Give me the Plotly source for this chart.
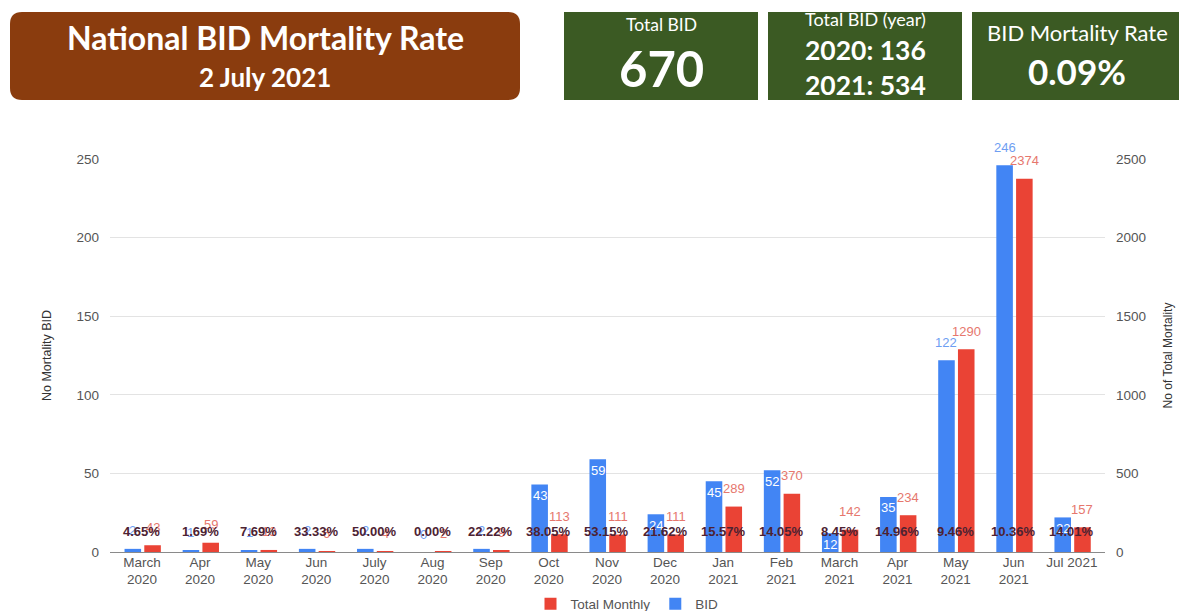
import plotly.graph_objects as go

# ---------------- data ----------------
months = ["March<br>2020", "Apr<br>2020", "May<br>2020", "Jun<br>2020", "July<br>2020",
          "Aug<br>2020", "Sep<br>2020", "Oct<br>2020", "Nov<br>2020", "Dec<br>2020",
          "Jan<br>2021", "Feb<br>2021", "March<br>2021", "Apr<br>2021", "May<br>2021",
          "Jun<br>2021", "Jul 2021"]
years = [2020] * 10 + [2021] * 7
bid = [2, 1, 1, 2, 2, 0, 2, 43, 59, 24, 45, 52, 12, 35, 122, 246, 22]
total_monthly = [43, 59, 13, 6, 4, 2, 9, 113, 111, 111, 289, 370, 142, 234, 1290, 2374, 157]
mortality_rate_text = "0.09%"
left_ticks = [0, 50, 100, 150, 200, 250]
right_ticks = [0, 500, 1000, 1500, 2000, 2500]

# ---------------- style ----------------
PAGE_OFF = 8                     # default body margin of the page
W, H = 1187 - PAGE_OFF, 611 - PAGE_OFF
ML, MT = 110 - PAGE_OFF, 159 - PAGE_OFF
PLOT_R, PLOT_B = 1105 - PAGE_OFF, 552 - PAGE_OFF
MR, MB = W - PLOT_R, H - PLOT_B
PW, PH = PLOT_R - ML, PLOT_B - MT
BLUE, RED = "#4285f4", "#ea4335"
BLUE_LBL, RED_LBL = "#6e9ef2", "#e6776d"
PCT_COLOR = "#4d2232"
BROWN, GREEN = "#8a3c0e", "#3b5a23"
FONT = "Liberation Sans, Arial, sans-serif"
HFONT = "Lato, Open Sans, sans-serif"
BAR_W = 0.285
BLUE_OFF = -0.30
RED_OFF = 0.04
X_RANGE = [-0.55, 16.57]
BID_INSIDE = {7, 8, 9, 10, 11, 12, 13, 16}


def px(x, y):
    """reference-page pixel -> paper coords"""
    x, y = x - PAGE_OFF, y - PAGE_OFF
    return (x - ML) / PW, (PLOT_B - y) / PH


fig = go.Figure()
fig.add_trace(go.Bar(x=months, y=bid, name="BID", marker_color=BLUE, yaxis="y",
                     width=BAR_W, offset=BLUE_OFF, legendrank=2,
                     marker_line_width=0, hoverinfo="x+y"))
fig.add_trace(go.Bar(x=months, y=total_monthly, name="Total Monthly", marker_color=RED,
                     yaxis="y2", width=BAR_W, offset=RED_OFF, legendrank=1,
                     marker_line_width=0, hoverinfo="x+y"))

annotations = []
# value labels
for i, (b, t) in enumerate(zip(bid, total_monthly)):
    inside = i in BID_INSIDE
    annotations.append(dict(x=i + BLUE_OFF + BAR_W / 2, y=b, xref="x", yref="y",
                            text=str(b), showarrow=False,
                            yshift=-11 if inside else 18,
                            font=dict(family=FONT, size=13,
                                      color="white" if inside else BLUE_LBL)))
    annotations.append(dict(x=i + RED_OFF + BAR_W / 2, y=t, xref="x", yref="y2",
                            text=str(t), showarrow=False, yshift=18,
                            font=dict(family=FONT, size=13, color=RED_LBL)))
# percentage labels
for i, (b, t) in enumerate(zip(bid, total_monthly)):
    annotations.append(dict(x=i, y=0, xref="x", yref="y", text=f"<b>{b / t * 100:.2f}%</b>",
                            showarrow=False, yshift=21,
                            font=dict(family=FONT, size=13, color=PCT_COLOR)))

shapes = []


def rounded(x0, y0, x1, y1, r):
    a0, b1 = px(x0, y0)
    a1, b0 = px(x1, y1)
    rx, ry = r / PW, r / PH
    return (f"M{a0+rx},{b1} L{a1-rx},{b1} Q{a1},{b1} {a1},{b1-ry} L{a1},{b0+ry} "
            f"Q{a1},{b0} {a1-rx},{b0} L{a0+rx},{b0} Q{a0},{b0} {a0},{b0+ry} "
            f"L{a0},{b1-ry} Q{a0},{b1} {a0+rx},{b1} Z")


shapes.append(dict(type="path", xref="paper", yref="paper", path=rounded(10, 12, 520, 100, 12),
                   fillcolor=BROWN, line=dict(width=0), layer="above"))
for x0, x1 in [(564, 758), (768, 962), (972, 1183)]:
    a0, b1 = px(x0, 12)
    a1, b0 = px(x1, 100)
    shapes.append(dict(type="rect", xref="paper", yref="paper", x0=a0, x1=a1, y0=b0, y1=b1,
                       fillcolor=GREEN, line=dict(width=0), layer="above"))


def htext(x, y, text, size, bold=True):
    a, b = px(x, y)
    return dict(x=a, y=b, xref="paper", yref="paper", text=f"<b>{text}</b>" if bold else text,
                showarrow=False, xanchor="center", yanchor="middle",
                font=dict(family=HFONT, size=size, color="white"))


total_bid = sum(bid)
y2020 = sum(b for b, y in zip(bid, years) if y == 2020)
y2021 = sum(b for b, y in zip(bid, years) if y == 2021)
annotations += [
    htext(265, 38, "National BID Mortality Rate", 32),
    htext(265, 77, "2 July 2021", 26),
    htext(661, 24, "Total BID", 17.5, bold=False),
    htext(661, 68, str(total_bid), 49),
    htext(865, 19, "Total BID (year)", 18, bold=False),
    htext(865, 50, f"2020: {y2020}", 26.5),
    htext(865, 85, f"2021: {y2021}", 26.5),
    htext(1077, 33, "BID Mortality Rate", 22, bold=False),
    htext(1077, 71, mortality_rate_text, 35),
]

fig.update_layout(
    width=W, height=H,
    margin=dict(l=ML, r=MR, t=MT, b=MB, autoexpand=False),
    paper_bgcolor="white", plot_bgcolor="white",
    font=dict(family=FONT, size=13, color="#555"),
    barmode="overlay",
    showlegend=True,
    legend=dict(orientation="h", x=(627 - PAGE_OFF - ML) / PW, xanchor="center",
                y=(PLOT_B - (604 - PAGE_OFF)) / PH, yanchor="middle",
                font=dict(family=FONT, size=13.5, color="#555"), traceorder="normal"),
    xaxis=dict(type="category", showgrid=False, ticks="", showline=False,
               tickfont=dict(family=FONT, size=13.5, color="#555"), tickangle=0,
               range=X_RANGE),
    yaxis=dict(range=[0, 250], tickvals=left_ticks, showgrid=True, gridcolor="#e3e3e3",
               zeroline=True, zerolinecolor="#8a8a8a", zerolinewidth=1.2,
               tickfont=dict(family=FONT, size=13.5, color="#555"), ticks="",
               ticklabelstandoff=10,
               title=dict(text="No Mortality BID", font=dict(family=FONT, size=12.5, color="#333"),
                          standoff=22)),
    yaxis2=dict(range=[0, 2500], tickvals=right_ticks, overlaying="y", side="right",
                showgrid=False, zeroline=False, ticks="", ticklabelstandoff=10,
                tickfont=dict(family=FONT, size=13.5, color="#555"),
                title=dict(text="No of Total Mortality", font=dict(family=FONT, size=12, color="#333"),
                           standoff=18)),
    shapes=shapes,
    annotations=annotations,
)

fig.write_html("out.html")
